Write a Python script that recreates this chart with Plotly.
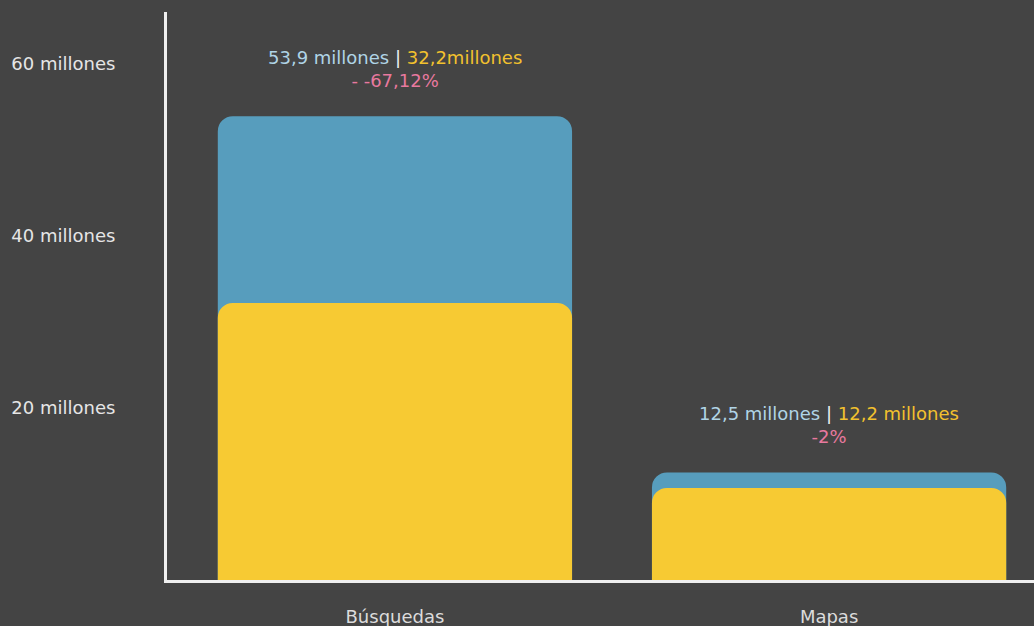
import plotly.graph_objects as go

categories = ["Búsquedas", "Mapas"]
blue_values = [53.9, 12.5]      # millones (serie azul)
yellow_values = [32.2, 10.7]
blue_labels = ["53,9 millones", "12,5 millones"]
yellow_labels = ["32,2millones", "12,2 millones"]
change_labels = ["- -67,12%", "-2%"]
tick_vals = [20, 40, 60]
tick_text = ["20 millones", "40 millones", "60 millones"]

BG = "#444444"
BLUE = "#579dbd"
YELLOW = "#f7ca33"
FONT = "'DejaVu Sans', sans-serif"
FS = 18
XRANGE = [-0.525, 1.472]

fig = go.Figure()
fig.add_trace(go.Bar(x=categories, y=blue_values,
                     marker=dict(color=BLUE, line=dict(width=0), cornerradius=15),
                     width=0.816, hoverinfo="skip"))
fig.add_trace(go.Bar(x=categories, y=yellow_values, xaxis="x2",
                     marker=dict(color=YELLOW, line=dict(width=0), cornerradius=15),
                     width=0.816, hoverinfo="skip"))

for cat, bv, bl, yl, cl in zip(categories, blue_values, blue_labels, yellow_labels, change_labels):
    fig.add_annotation(
        x=cat, y=bv, yanchor="bottom", yshift=23, showarrow=False,
        text=(f"<span style='color:#b0d4e6'>{bl}</span> <span style='color:#f0f0f0'>|</span> "
              f"<span style='color:#f2c12e'>{yl}</span><br>"
              f"<span style='color:#e8799f'>{cl}</span>"),
        font=dict(size=FS, family=FONT), align="center",
    )

fig.update_layout(
    width=1034, height=626,
    paper_bgcolor=BG, plot_bgcolor=BG,
    barmode="overlay",
    showlegend=False,
    margin=dict(l=167, r=0, t=12, b=46, autoexpand=False),
    font=dict(family=FONT, color="#e6e6e6", size=FS),
    xaxis=dict(range=XRANGE, showgrid=False, zeroline=False,
               showline=True, linecolor="#f0f0f0", linewidth=3,
               ticks="", ticklabelstandoff=18, automargin=False,
               tickfont=dict(size=FS, color="#dcdcdc", family=FONT)),
    xaxis2=dict(range=XRANGE, overlaying="x", visible=False, matches="x"),
    yaxis=dict(range=[0, 66], showgrid=False, zeroline=False,
               showline=True, linecolor="#f0f0f0", linewidth=3,
               tickvals=tick_vals, ticktext=tick_text, ticks="",
               ticklabelstandoff=45, automargin=False,
               tickfont=dict(size=FS, color="#e6e6e6", family=FONT)),
)

fig.write_html("out.html")
